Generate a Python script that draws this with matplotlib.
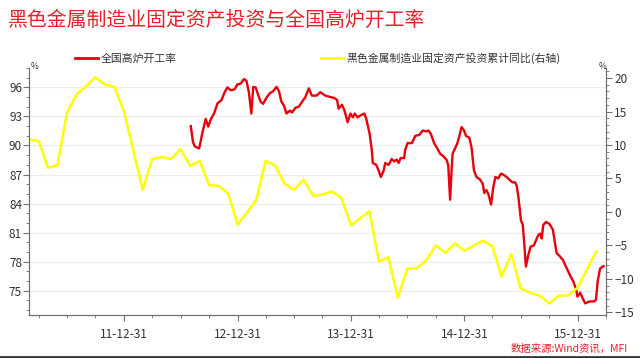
import matplotlib.pyplot as plt
import matplotlib.dates as mdates
from matplotlib.ticker import MultipleLocator
from matplotlib.lines import Line2D
import pandas as pd

plt.rcParams['font.family'] = ['Noto Sans CJK SC', 'DejaVu Sans']

title = '黑色金属制造业固定资产投资与全国高炉开工率'
label_bf = '全国高炉开工率'
label_fai = '黑色金属制造业固定资产投资累计同比(右轴)'
source = '数据来源:Wind资讯，MFI'

# monthly cumulative yoy (%), right axis -- January not published
fai_months = ['2011-02', '2011-03', '2011-04', '2011-05', '2011-06', '2011-07', '2011-08',
              '2011-09', '2011-10', '2011-11', '2011-12',
              '2012-02', '2012-03', '2012-04', '2012-05', '2012-06', '2012-07', '2012-08',
              '2012-09', '2012-10', '2012-11', '2012-12',
              '2013-02', '2013-03', '2013-04', '2013-05', '2013-06', '2013-07', '2013-08',
              '2013-09', '2013-10', '2013-11', '2013-12',
              '2014-02', '2014-03', '2014-04', '2014-05', '2014-06', '2014-07', '2014-08',
              '2014-09', '2014-10', '2014-11', '2014-12',
              '2015-02', '2015-03', '2015-04', '2015-05', '2015-06', '2015-07', '2015-08',
              '2015-09', '2015-10', '2015-11', '2015-12',
              '2016-02']
fai_values = [10.8, 10.6, 6.6, 7.0, 14.8, 17.5, 18.8, 20.1, 19.0, 18.7, 15.0,
              3.3, 7.9, 8.2, 7.9, 9.4, 6.9, 7.6, 4.0, 3.9, 2.8, -1.9,
              1.7, 7.6, 7.0, 4.2, 3.3, 4.8, 2.4, 2.6, 3.05, 2.1, -2.0,
              0.1, -7.4, -6.8, -12.8, -8.5, -8.4, -7.2, -5.0, -6.1, -4.7, -5.8,
              -4.3, -5.1, -9.65, -6.3, -11.4, -12.1, -12.5, -13.7, -12.5, -12.5, -11.3,
              -5.9]

# weekly blast furnace operating rate (%), left axis
bf_dates = ['2012-08-02', '2012-08-09', '2012-08-15', '2012-08-29', '2012-09-09', '2012-09-19',
            '2012-09-27', '2012-10-06', '2012-10-16', '2012-10-27', '2012-11-09', '2012-11-19',
            '2012-11-28', '2012-12-09', '2012-12-21', '2012-12-30', '2013-01-10', '2013-01-20',
            '2013-01-28', '2013-02-05', '2013-02-13', '2013-02-19', '2013-02-27', '2013-03-04',
            '2013-03-15', '2013-03-23', '2013-04-03', '2013-04-14', '2013-04-24', '2013-05-05',
            '2013-05-13', '2013-05-20', '2013-05-29', '2013-06-06', '2013-06-17', '2013-06-24',
            '2013-07-05', '2013-07-16', '2013-07-26', '2013-08-06', '2013-08-17', '2013-08-27',
            '2013-09-11', '2013-09-23', '2013-10-09', '2013-10-26', '2013-11-07', '2013-11-16',
            '2013-11-21', '2013-12-02', '2013-12-10', '2013-12-20', '2013-12-29', '2014-01-06',
            '2014-01-12', '2014-01-21', '2014-01-30', '2014-02-12', '2014-02-18', '2014-03-01',
            '2014-03-08', '2014-03-11', '2014-03-22', '2014-03-30', '2014-04-06', '2014-04-15',
            '2014-04-20', '2014-05-01', '2014-05-11', '2014-05-19', '2014-05-27', '2014-06-02',
            '2014-06-09', '2014-06-20', '2014-06-23', '2014-07-01', '2014-07-15', '2014-07-26',
            '2014-08-08', '2014-08-19', '2014-08-30', '2014-09-06', '2014-09-14', '2014-09-25',
            '2014-10-03', '2014-10-14', '2014-10-24', '2014-11-04', '2014-11-09', '2014-11-15',
            '2014-11-20', '2014-11-23', '2014-12-01', '2014-12-08', '2014-12-15', '2014-12-22',
            '2014-12-30', '2015-01-05', '2015-01-16', '2015-01-23', '2015-01-31', '2015-02-08',
            '2015-02-19', '2015-02-28', '2015-03-05', '2015-03-12', '2015-03-19', '2015-03-27',
            '2015-04-03', '2015-04-10', '2015-04-19', '2015-04-28', '2015-05-05', '2015-05-16',
            '2015-05-27', '2015-06-04', '2015-06-12', '2015-06-17', '2015-06-23', '2015-07-01',
            '2015-07-07', '2015-07-11', '2015-07-17', '2015-07-25', '2015-08-01', '2015-08-12',
            '2015-08-21', '2015-08-26', '2015-09-01', '2015-09-06', '2015-09-11', '2015-09-20',
            '2015-10-01', '2015-10-12', '2015-10-19', '2015-10-24', '2015-11-02', '2015-11-13',
            '2015-11-26', '2015-12-06', '2015-12-17', '2015-12-26', '2015-12-30', '2016-01-08',
            '2016-01-17', '2016-01-24', '2016-02-07', '2016-02-22', '2016-02-28', '2016-03-04',
            '2016-03-12', '2016-03-23']
bf_values = [92.0, 90.35, 89.9, 89.7, 91.4, 92.75, 91.95, 92.75, 93.3, 94.35, 94.7, 95.5,
             96.0, 95.7, 95.8, 96.3, 96.4, 96.85, 96.7, 95.5, 93.3, 96.05, 96.0, 95.5,
             94.5, 94.3, 94.95, 95.4, 95.6, 96.05, 95.6, 94.6, 94.1, 93.3, 93.6, 93.4,
             93.9, 94.0, 94.5, 95.0, 95.9, 95.15, 95.15, 95.5, 95.15, 95.0, 94.9, 94.7,
             93.8, 94.2, 93.6, 92.4, 93.3, 92.9, 93.3, 92.9, 93.1, 93.3, 92.75, 91.2,
             89.5, 88.2, 88.0, 87.4, 86.75, 87.4, 88.2, 88.0, 88.6, 88.35, 88.55, 88.2,
             88.7, 88.7, 89.5, 90.25, 90.25, 91.0, 91.1, 91.55, 91.45, 91.55, 91.2, 90.2,
             89.8, 89.15, 88.9, 88.5, 87.95, 84.4, 87.6, 89.15, 89.7, 90.2, 91.0, 91.9,
             91.55, 91.0, 90.8, 89.8, 87.4, 86.75, 86.5, 86.05, 85.1, 85.4, 84.9, 83.9,
             85.7, 86.75, 86.6, 87.1, 87.0, 86.75, 86.4, 86.2, 86.2, 85.9, 84.7, 82.3,
             81.8, 80.2, 77.5, 78.7, 79.55, 79.7, 80.4, 80.75, 80.9, 80.4, 81.8, 82.1,
             81.9, 81.3, 79.9, 78.9, 78.6, 78.2, 77.3, 76.6, 75.95, 75.1, 74.4, 74.8,
             74.15, 73.7, 73.9, 73.9, 74.1, 75.95, 77.3, 77.55]

fai_dates = pd.to_datetime(fai_months) + pd.offsets.MonthEnd(0)
bf_dt = pd.to_datetime(bf_dates)

fig = plt.figure(figsize=(6.4, 3.58), dpi=100)
ax = fig.add_axes([29 / 640, 1 - 315 / 358, 577 / 640, 247 / 358])
ax2 = ax.twinx()

ax.plot(bf_dt, bf_values, color='#e8000b', lw=1.7, label=label_bf)
ax2.plot(fai_dates, fai_values, color='#ffff00', lw=1.8, label=label_fai)

ax.set_xlim(pd.Timestamp('2011-02-28'), pd.Timestamp('2016-03-24'))
ax.set_ylim(72.5, 98)
ax2.set_ylim(-15.4, 21.5)

ax.set_yticks(range(75, 97, 3))
ax.yaxis.set_minor_locator(MultipleLocator(1))
ax2.set_yticks(range(-15, 21, 5))
ax2.yaxis.set_minor_locator(MultipleLocator(1))

years = pd.date_range('2011-12-31', '2015-12-31', freq='YE')
quarters = pd.date_range('2011-03-31', '2016-03-31', freq='QE-DEC')
ax.set_xticks(mdates.date2num(years))
ax.set_xticks(mdates.date2num(quarters), minor=True)
ax.xaxis.set_major_formatter(mdates.DateFormatter('%y-%m-%d'))

ax.yaxis.grid(True, color='#ececec', lw=0.8)
ax.set_axisbelow(True)

spine_c = '#707070'
for a in (ax, ax2):
    a.spines['top'].set_visible(False)
    for s in ('left', 'right', 'bottom'):
        a.spines[s].set_color(spine_c)
    a.tick_params(which='major', length=4, color=spine_c, labelsize=8.5, labelcolor='#333333')
    a.tick_params(which='minor', length=2, color=spine_c)
ax.tick_params(axis='x', pad=5)
ax.tick_params(axis='y', pad=1)
ax2.tick_params(axis='y', pad=2)

fig.text(31 / 640, 1 - 69 / 358, '%', fontsize=6, color='#333333')
fig.text(599 / 640, 1 - 69 / 358, '%', fontsize=6, color='#333333')

fig.text(8 / 640, 1 - 20 / 358, title, fontsize=14.3, color='#e8202a', va='center')

handles = [Line2D([], [], color='#e8000b', lw=2), Line2D([], [], color='#ffff00', lw=2)]
leg = fig.legend(handles, [label_bf, label_fai], loc='center left',
                 bbox_to_anchor=(75 / 640, 1 - 58 / 358), ncol=2, frameon=False,
                 fontsize=7.8, handlelength=2.1, handletextpad=0.25, columnspacing=13.3,
                 borderpad=0, borderaxespad=0)
for t in leg.get_texts():
    t.set_color('#333333')

fig.text(628 / 640, 1 - 349 / 358, source, fontsize=7.5, color='#e8202a',
         style='italic', ha='right', va='center')
fig.add_artist(Line2D([0, 1], [0.002, 0.002], transform=fig.transFigure, color='#333333', lw=2))

fig.savefig('out.png', dpi=100)
